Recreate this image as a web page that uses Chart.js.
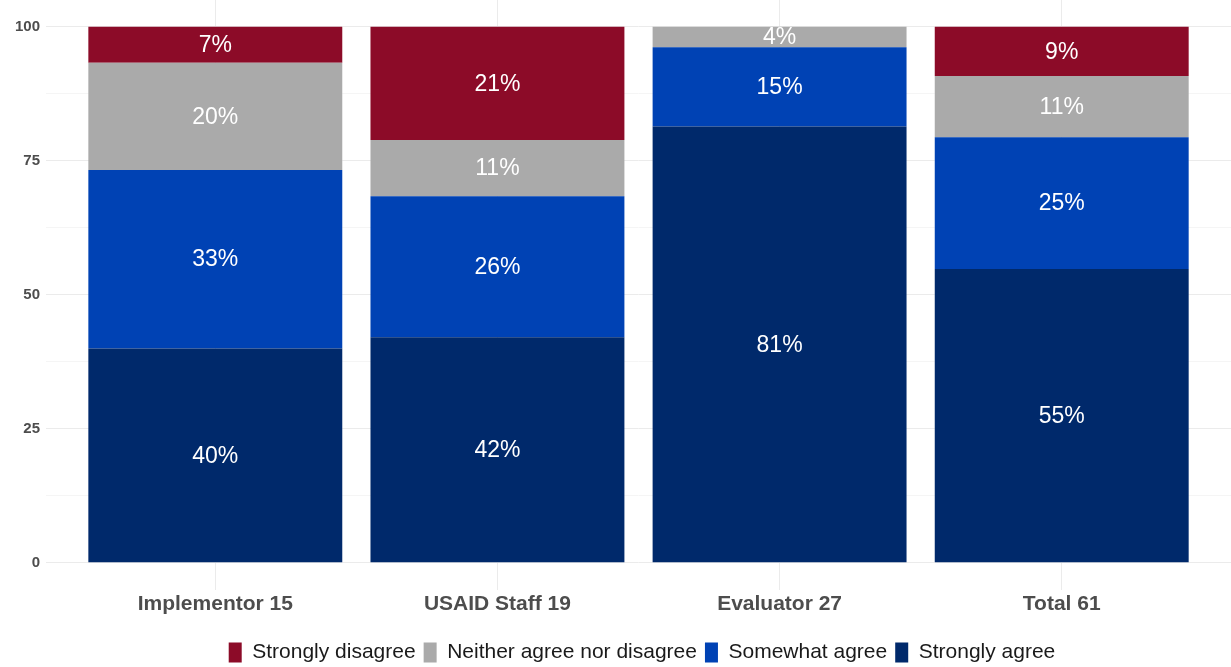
<!DOCTYPE html>
<html>
<head>
<meta charset="utf-8">
<script src="https://cdn.jsdelivr.net/npm/chart.js@4/dist/chart.umd.min.js"></script>
<style>
  html, body { margin: 0; padding: 0; background: #fff; }
  #wrap { width: 1231px; height: 667px; }
</style>
</head>
<body>
<div id="wrap"><canvas id="chart"></canvas></div>
<script>
const categories = ["Implementor 15", "USAID Staff 19", "Evaluator 27", "Total 61"];
const stronglyAgree = [40, 42.1, 81.4, 54.8];
const somewhatAgree = [33.3, 26.3, 14.8, 24.6];
const neither = [20, 10.5, 3.8, 11.4];
const stronglyDisagree = [6.7, 21.1, 0, 9.2];
const yTicks = [0, 25, 50, 75, 100];
const yMinorTicks = [12.5, 37.5, 62.5, 87.5];

const fontFamily = "'Liberation Sans', Arial, sans-serif";

function toPoints(vals) {
  return vals.map((v, i) => ({ x: i + 1, y: v }));
}

// white percentage labels in the middle of each segment
const segmentLabels = {
  id: "segmentLabels",
  afterDatasetsDraw(chart) {
    const ctx = chart.ctx;
    ctx.save();
    ctx.fillStyle = "#ffffff";
    ctx.font = "23px " + fontFamily;
    ctx.textAlign = "center";
    ctx.textBaseline = "middle";
    chart.data.datasets.forEach((ds, di) => {
      const meta = chart.getDatasetMeta(di);
      meta.data.forEach((bar, i) => {
        const v = ds.data[i].y;
        if (!v) return;
        const mid = (bar.y + bar.base) / 2;
        ctx.fillText(Math.round(v) + "%", bar.x, mid + 1);
      });
    });
    ctx.restore();
  }
};

// legend sits a bit right of the canvas centre, like the panel-centred original
const legendShift = {
  id: "legendShift",
  afterLayout(chart) {
    chart.legend.left += 22;
    chart.legend.right += 22;
  }
};

const barStyle = { barPercentage: 0.9, categoryPercentage: 1, borderWidth: 0 };

new Chart(document.getElementById("chart"), {
  type: "bar",
  data: {
    datasets: [
      { label: "Strongly agree", data: toPoints(stronglyAgree), backgroundColor: "#00296b", ...barStyle },
      { label: "Somewhat agree", data: toPoints(somewhatAgree), backgroundColor: "#0042b4", ...barStyle },
      { label: "Neither agree nor disagree", data: toPoints(neither), backgroundColor: "#aaaaaa", ...barStyle },
      { label: "Strongly disagree", data: toPoints(stronglyDisagree), backgroundColor: "#8c0b28", ...barStyle },
    ],
  },
  plugins: [segmentLabels, legendShift],
  options: {
    responsive: true,
    maintainAspectRatio: false,
    animation: false,
    layout: { padding: { top: -2, right: 0, left: 9, bottom: -6 } },
    plugins: {
      tooltip: { enabled: false },
      legend: {
        position: "bottom",
        reverse: true,
        // empty title only used as a spacer above the legend row
        title: { display: true, text: "", font: { size: 1 }, padding: { top: 14, bottom: 0 } },
        labels: {
          boxWidth: 13,
          boxHeight: 20,
          padding: 8,
          color: "#1a1a1a",
          font: { size: 21, family: fontFamily },
        },
      },
    },
    scales: {
      x: {
        type: "linear",
        stacked: true,
        min: 0.4,
        max: 4.6,
        offset: false,
        afterBuildTicks(scale) {
          scale.ticks = categories.map((c, i) => ({ value: i + 1 }));
        },
        ticks: {
          callback: v => categories[v - 1],
          color: "#4d4d4d",
          padding: 2,
          font: { size: 21, weight: "bold", family: fontFamily },
        },
        grid: { offset: false, color: "#ebebeb", drawTicks: false },
        border: { display: false },
      },
      y: {
        stacked: true,
        min: -5,
        max: 105,
        afterBuildTicks(scale) {
          scale.ticks = [...yTicks, ...yMinorTicks].sort((a, b) => a - b).map(v => ({ value: v }));
        },
        afterFit(scale) {
          scale.paddingTop = -2;
          scale.paddingBottom = 0;
        },
        ticks: {
          callback: v => (yTicks.includes(v) ? v : ""),
          color: "#4d4d4d",
          padding: 6,
          font: { size: 15, weight: "bold", family: fontFamily },
        },
        grid: {
          color: ctx => (yTicks.includes(ctx.tick && ctx.tick.value) ? "#ebebeb" : "#f5f5f5"),
          drawTicks: false,
        },
        border: { display: false },
      },
    },
  },
});
</script>
</body>
</html>
